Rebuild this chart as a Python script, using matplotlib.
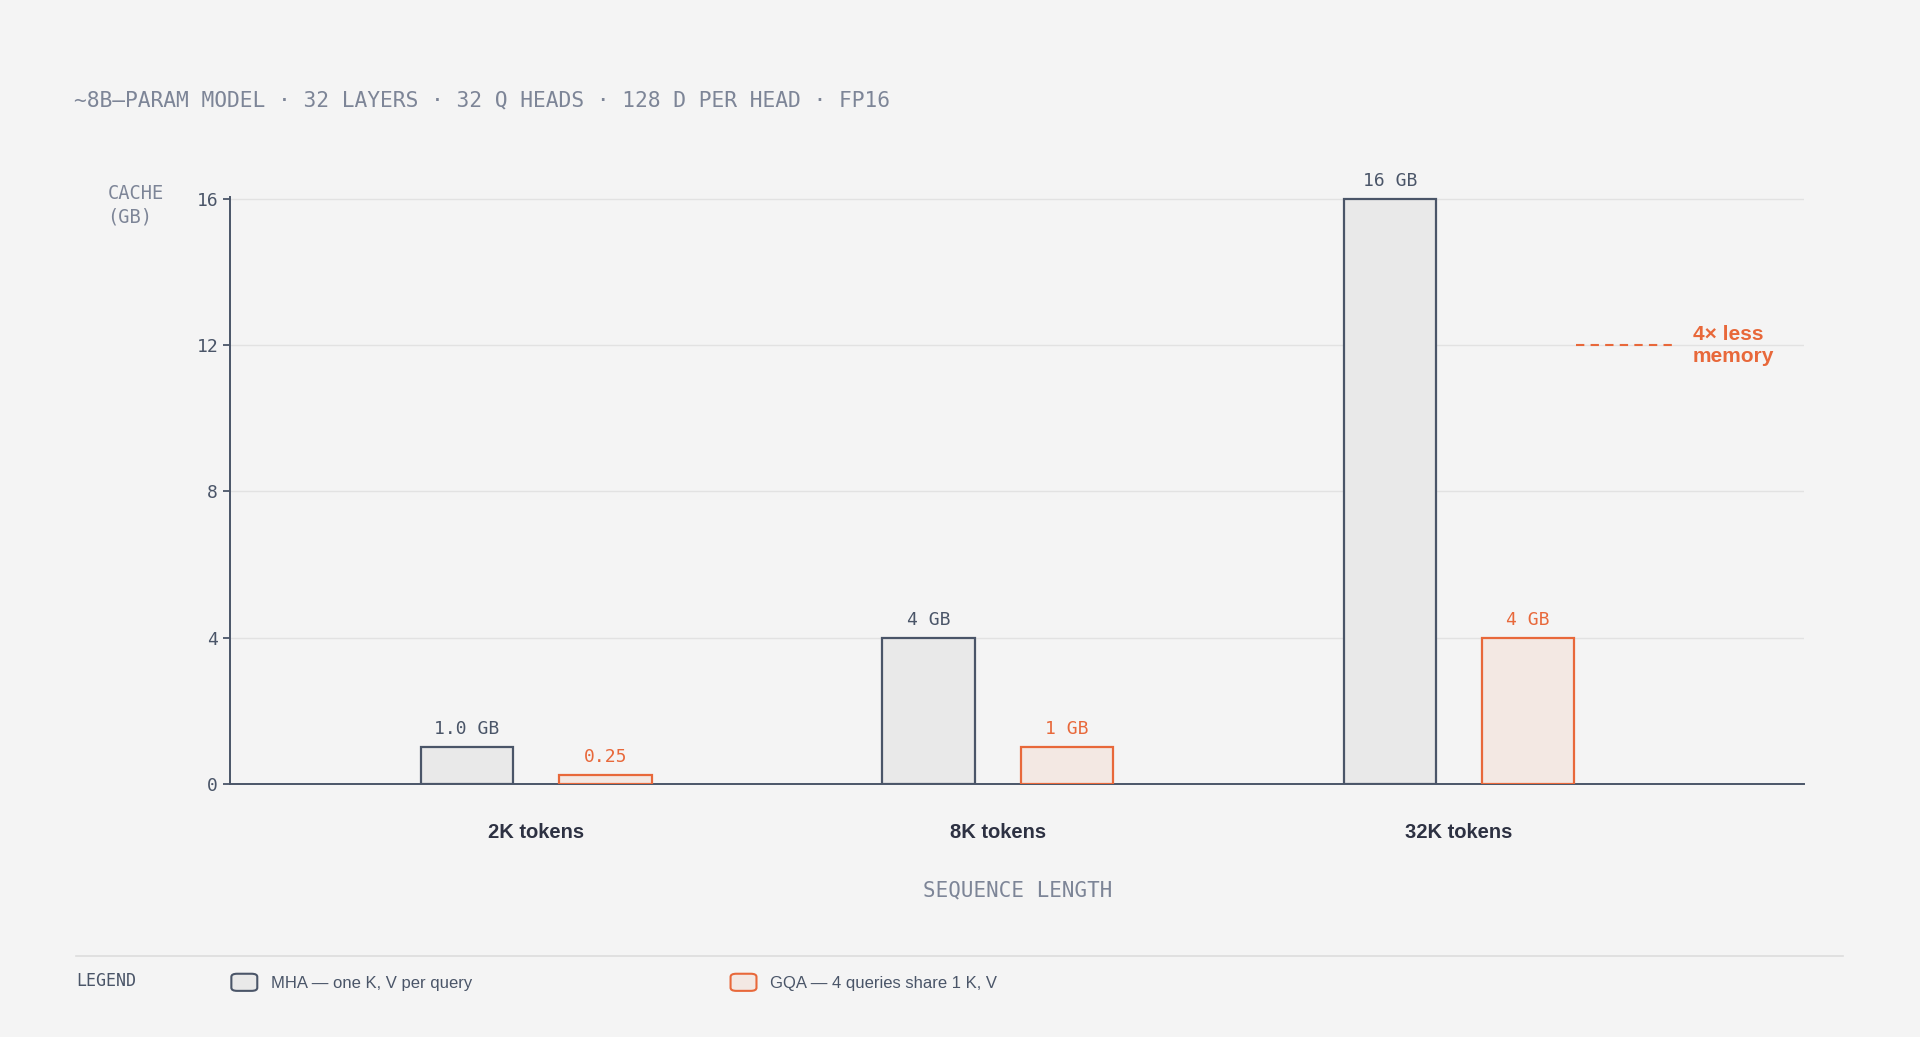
import matplotlib
matplotlib.use("Agg")
import matplotlib.pyplot as plt
from matplotlib.patches import FancyBboxPatch
import numpy as np

categories = ["2K tokens", "8K tokens", "32K tokens"]
mha = [1.0, 4, 16]
gqa = [0.25, 1, 4]
mha_labels = ["1.0 GB", "4 GB", "16 GB"]
gqa_labels = ["0.25", "1 GB", "4 GB"]
yticks = [0, 4, 8, 12, 16]

BG = "#f4f4f4"; SLATE = "#4a5568"; ORANGE = "#e8683a"; MUTED = "#7d8597"
MONO = "DejaVu Sans Mono"

fig = plt.figure(figsize=(19.2, 10.37), dpi=100, facecolor=BG)
ax = fig.add_axes([0.1198, 0.244, 0.820, 0.566], facecolor=BG)
x = np.arange(len(categories))
w = 0.2
ax.bar(x - 0.15, mha, w, color="#e9e9e9", edgecolor=SLATE, linewidth=1.6, zorder=3)
ax.bar(x + 0.15, gqa, w, color="#f3e8e3", edgecolor=ORANGE, linewidth=1.6, zorder=3)
for i in range(len(x)):
    ax.text(x[i] - 0.15, mha[i] + 0.25, mha_labels[i], ha="center", va="bottom",
            fontsize=13, family=MONO, color=SLATE)
    ax.text(x[i] + 0.15, gqa[i] + 0.25, gqa_labels[i], ha="center", va="bottom",
            fontsize=13, family=MONO, color=ORANGE)
ax.set_xlim(-0.664, 2.749)
ax.set_ylim(0, 16.05)
ax.set_yticks(yticks)
ax.set_yticklabels([str(t) for t in yticks], family=MONO, fontsize=13, color=SLATE)
ax.yaxis.grid(True, color="#e2e2e2", linewidth=1, zorder=0)
ax.set_xticks(x)
ax.set_xticklabels(categories, fontsize=14.5, fontweight="bold", color="#2d3142",
                   family="Liberation Sans")
ax.tick_params(axis="x", length=0, pad=28)
ax.tick_params(axis="y", length=5, color=SLATE, width=1.3)
for s in ["top", "right"]:
    ax.spines[s].set_visible(False)
for s in ["left", "bottom"]:
    ax.spines[s].set_color(SLATE); ax.spines[s].set_linewidth(1.4)
ax.set_xlabel("SEQUENCE LENGTH", family=MONO, fontsize=15, color=MUTED, labelpad=28)

# annotation
ax.plot([2.253, 2.472], [12, 12], ls=(0, (4, 3)), color=ORANGE, lw=1.5)
ax.text(2.507, 12, "4× less\nmemory", color=ORANGE, fontsize=15, fontweight="bold",
        va="center", ha="left", linespacing=1.2, family="Liberation Sans")

fig.text(0.056, 0.802, "CACHE\n(GB)", family=MONO, fontsize=13.5, color=MUTED,
         va="center", ha="left", linespacing=1.3)
fig.text(0.0385, 0.903, "~8B–PARAM MODEL · 32 LAYERS · 32 Q HEADS · 128 D PER HEAD · FP16",
         family=MONO, fontsize=15.3, color=MUTED, va="center")

# legend
fig.add_artist(plt.Line2D([0.0395, 0.96], [0.078, 0.078], color="#dddddd", lw=1.2))
fig.text(0.0395, 0.054, "LEGEND", family=MONO, fontsize=12, color=SLATE, va="center")
for xx, fc, ec, lab in [(0.1205, "#e9e9e9", SLATE, "MHA — one K, V per query"),
                        (0.3805, "#f3e8e3", ORANGE, "GQA — 4 queries share 1 K, V")]:
    fig.add_artist(FancyBboxPatch((xx, 0.0445), 0.0135, 0.0165, boxstyle="round,pad=0,rounding_size=0.003",
                                  transform=fig.transFigure, fc=fc, ec=ec, lw=1.5))
    fig.text(xx + 0.0205, 0.052, lab, fontsize=12, color=SLATE, va="center",
             family="Liberation Sans")

fig.savefig("out.png", dpi=100, facecolor=BG)
